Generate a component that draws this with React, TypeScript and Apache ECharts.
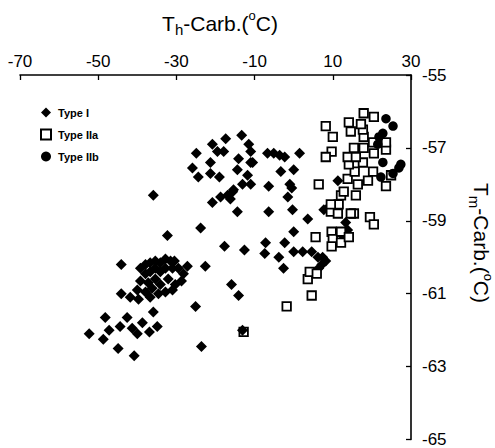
import React, { useEffect, useRef } from "react";
import * as echarts from "echarts";

const typeI: [number, number][] = [
  [-44.1, -60.2], [-27.2, -60.25], [-22.6, -60.25], [-30.5, -60.1], [-44.1, -61.0], [-41.8, -61.1],
  [-39.7, -61.15], [-25.1, -61.35], [-48.2, -61.65], [-42.6, -61.65], [-35.9, -61.5], [-52.3, -62.1],
  [-48.7, -62.25], [-47.2, -62.0], [-44.4, -61.9], [-41.3, -61.95], [-40.0, -62.1], [-38.7, -61.8],
  [-36.9, -62.05], [-34.9, -61.9], [-44.9, -62.5], [-40.8, -62.7], [-23.6, -62.45],
  [-39.2, -60.3], [-37.9, -60.2], [-36.7, -60.15], [-35.4, -60.1], [-34.1, -60.15], [-32.8, -60.05],
  [-31.5, -60.1], [-37.9, -60.45], [-36.7, -60.4], [-35.4, -60.3], [-34.1, -60.4], [-32.8, -60.3],
  [-31.0, -60.3], [-29.5, -60.3], [-28.2, -60.45], [-39.2, -60.65], [-37.2, -60.7], [-35.4, -60.6],
  [-34.1, -60.75], [-32.1, -60.6], [-30.3, -60.75], [-28.7, -60.65], [-40.0, -60.9], [-37.9, -60.95],
  [-36.2, -60.85], [-34.6, -61.0], [-32.8, -60.95], [-31.0, -60.9], [-36.7, -61.1],
  [-35.9, -58.3], [-23.8, -59.2], [-32.3, -59.4], [-17.7, -59.7], [-12.6, -59.8], [-15.9, -60.75],
  [-14.1, -61.05], [-13.3, -56.65], [-17.4, -56.75], [-20.8, -56.9], [-24.9, -57.15],
  [-19.5, -57.1], [-17.9, -57.1], [-11.5, -56.9], [-11.0, -57.1], [-21.3, -57.4], [-14.1, -57.3],
  [-11.0, -57.4], [-25.9, -57.55], [-24.4, -57.8], [-21.3, -57.7], [-19.0, -57.8], [-14.4, -57.6],
  [-11.8, -57.75], [-11.0, -58.0], [-13.1, -58.0], [-15.4, -58.15], [-16.9, -58.3], [-18.7, -58.35],
  [-20.8, -58.5], [-16.2, -58.4], [-14.4, -58.75], [-15.6, -58.2],
  [-10.5, -57.4], [-6.7, -57.15], [-5.1, -57.15], [-3.6, -57.2], [-2.3, -57.25], [1.5, -57.15],
  [-3.3, -57.65], [0, -57.6], [-6.4, -58.05], [-1.0, -58.0], [-0.5, -58.1], [-1.5, -58.35],
  [-0.3, -58.7], [-6.4, -58.75], [3.6, -58.95], [0, -59.3], [-7.2, -59.6], [-2.3, -59.6],
  [-7.4, -59.9], [-3.8, -60.0], [-2.6, -60.3], [0, -59.85], [2.3, -59.85], [4.6, -59.85],
  [6.2, -60.0], [7.4, -60.0], [8.2, -60.1], [7.2, -60.2], [6.4, -60.3], [11.3, -57.9],
  [7.7, -58.7], [8.7, -58.65], [13.3, -59.05], [13.8, -59.25], [13.3, -59.35], [12.6, -59.5],
];

const typeIIa: [number, number][] = [
  [-12.8, -62.05], [-1.8, -61.35], [4.6, -61.05], [3.6, -60.6], [4.1, -60.4], [5.9, -60.45],
  [5.6, -59.45], [9.7, -59.3], [10.0, -59.5], [9.7, -59.7], [12.1, -59.6], [12.1, -59.3],
  [14.1, -59.45], [15.4, -58.8], [19.5, -58.9], [20.5, -59.1], [9.5, -58.75], [11.3, -58.8],
  [11.5, -58.55], [9.5, -58.55], [12.1, -58.3], [15.9, -58.3], [14.6, -58.8], [6.4, -58.0],
  [13.8, -57.85], [16.4, -58.0], [19.0, -57.9], [20.3, -57.65], [23.6, -58.05], [24.9, -57.75],
  [12.8, -58.2], [15.6, -57.65], [14.1, -57.45], [13.8, -57.25], [17.7, -57.4], [15.9, -57.25],
  [15.4, -57.0], [17.9, -57.0], [20.5, -57.15], [23.6, -57.05], [23.6, -56.85], [20.3, -56.85],
  [17.9, -56.7], [17.7, -56.5], [14.6, -56.55], [14.1, -56.3], [17.2, -56.35], [17.9, -56.05],
  [20.5, -56.15], [8.2, -56.4], [10.0, -56.7], [9.7, -57.1], [8.2, -57.25],
];

const typeIIb: [number, number][] = [
  [23.6, -56.2], [25.4, -56.4], [22.8, -56.6], [21.8, -56.7], [21.5, -56.9], [22.8, -57.4],
  [26.9, -57.55], [22.3, -57.8], [25.4, -57.7], [27.4, -57.45],
];

const overlapDiamond: [number, number][] = [[-13.1, -62.0]];

const xMin = -70, xMax = 30, xStep = 20;
const yMin = -65, yMax = -55, yStep = 2;

const FONT = "'Liberation Sans', Arial, sans-serif";

const richTitle = {
  a: { fontSize: 21, fontFamily: FONT, color: "#000", lineHeight: 28, verticalAlign: "middle" },
  s: { fontSize: 15, fontFamily: FONT, color: "#000", lineHeight: 15, verticalAlign: "bottom" },
  p: { fontSize: 13, fontFamily: FONT, color: "#000", lineHeight: 13, verticalAlign: "top" },
};

export default function App() {
  const ref = useRef<HTMLDivElement>(null);
  useEffect(() => {
    document.body.style.margin = "0";
    const chart = echarts.init(ref.current!, null, { renderer: "svg" });
    chart.setOption({
      animation: false,
      backgroundColor: "#fff",
      grid: { left: 20, right: 84, top: 75, bottom: 7, containLabel: false },
      legend: {
        orient: "vertical",
        left: 35,
        top: 102,
        padding: 5,
        itemWidth: 10,
        itemHeight: 10,
        itemGap: 10.5,
        textStyle: { fontSize: 11, fontWeight: "bold", fontFamily: FONT, color: "#000", padding: [0, 0, 0, 2] },
        data: [
          { name: "Type I", icon: "diamond" },
          { name: "Type IIa", icon: "rect" },
          { name: "Type IIb", icon: "circle" },
        ],
      },
      xAxis: {
        type: "value",
        position: "top",
        min: xMin,
        max: xMax,
        interval: xStep,
        axisLine: { show: true, onZero: false, lineStyle: { color: "#000", width: 1.6 } },
        axisTick: { show: true, inside: true, length: 5, lineStyle: { color: "#000", width: 1.3 } },
        axisLabel: { color: "#000", fontSize: 17, fontFamily: FONT, margin: 5 },
        splitLine: { show: false },
      },
      yAxis: {
        type: "value",
        position: "right",
        min: yMin,
        max: yMax,
        interval: yStep,
        axisLine: { show: true, onZero: false, lineStyle: { color: "#000", width: 1.6 } },
        axisTick: { show: true, inside: true, length: 5, lineStyle: { color: "#000", width: 1.3 } },
        axisLabel: { color: "#000", fontSize: 17, fontFamily: FONT, margin: 11 },
        splitLine: { show: false },
      },
      graphic: [
        {
          type: "text",
          x: 220,
          y: 23,
          style: {
            text: "{a|T}{s|h}{a|-Carb.(}{p|o}{a|C)}",
            rich: richTitle,
            align: "center",
            verticalAlign: "middle",
          },
        },
        {
          type: "text",
          x: 481,
          y: 243,
          rotation: -Math.PI / 2,
          style: {
            text: "{a|T}{s|m}{a|-Carb.(}{p|o}{a|C)}",
            rich: richTitle,
            align: "center",
            verticalAlign: "middle",
          },
        },
      ],
      series: [
        {
          name: "Type I",
          type: "scatter",
          symbol: "diamond",
          symbolSize: 11,
          data: typeI,
          itemStyle: { color: "#000", opacity: 1 },
          z: 2,
        },
        {
          name: "Type IIa",
          type: "scatter",
          symbol: "rect",
          symbolSize: 8.5,
          data: typeIIa,
          itemStyle: { color: "#fff", borderColor: "#000", borderWidth: 1.8, opacity: 1 },
          z: 3,
        },
        {
          name: "Type IIb",
          type: "scatter",
          symbol: "circle",
          symbolSize: 9.5,
          data: typeIIb,
          itemStyle: { color: "#000", opacity: 1 },
          z: 4,
        },
        {
          name: "Type I",
          type: "scatter",
          symbol: "diamond",
          symbolSize: 11,
          data: overlapDiamond,
          itemStyle: { color: "#000", opacity: 1 },
          z: 5,
        },
      ],
    });
    return () => chart.dispose();
  }, []);
  return <div ref={ref} style={{ width: 495, height: 448, position: "absolute", left: 0, top: 0 }} />;
}
